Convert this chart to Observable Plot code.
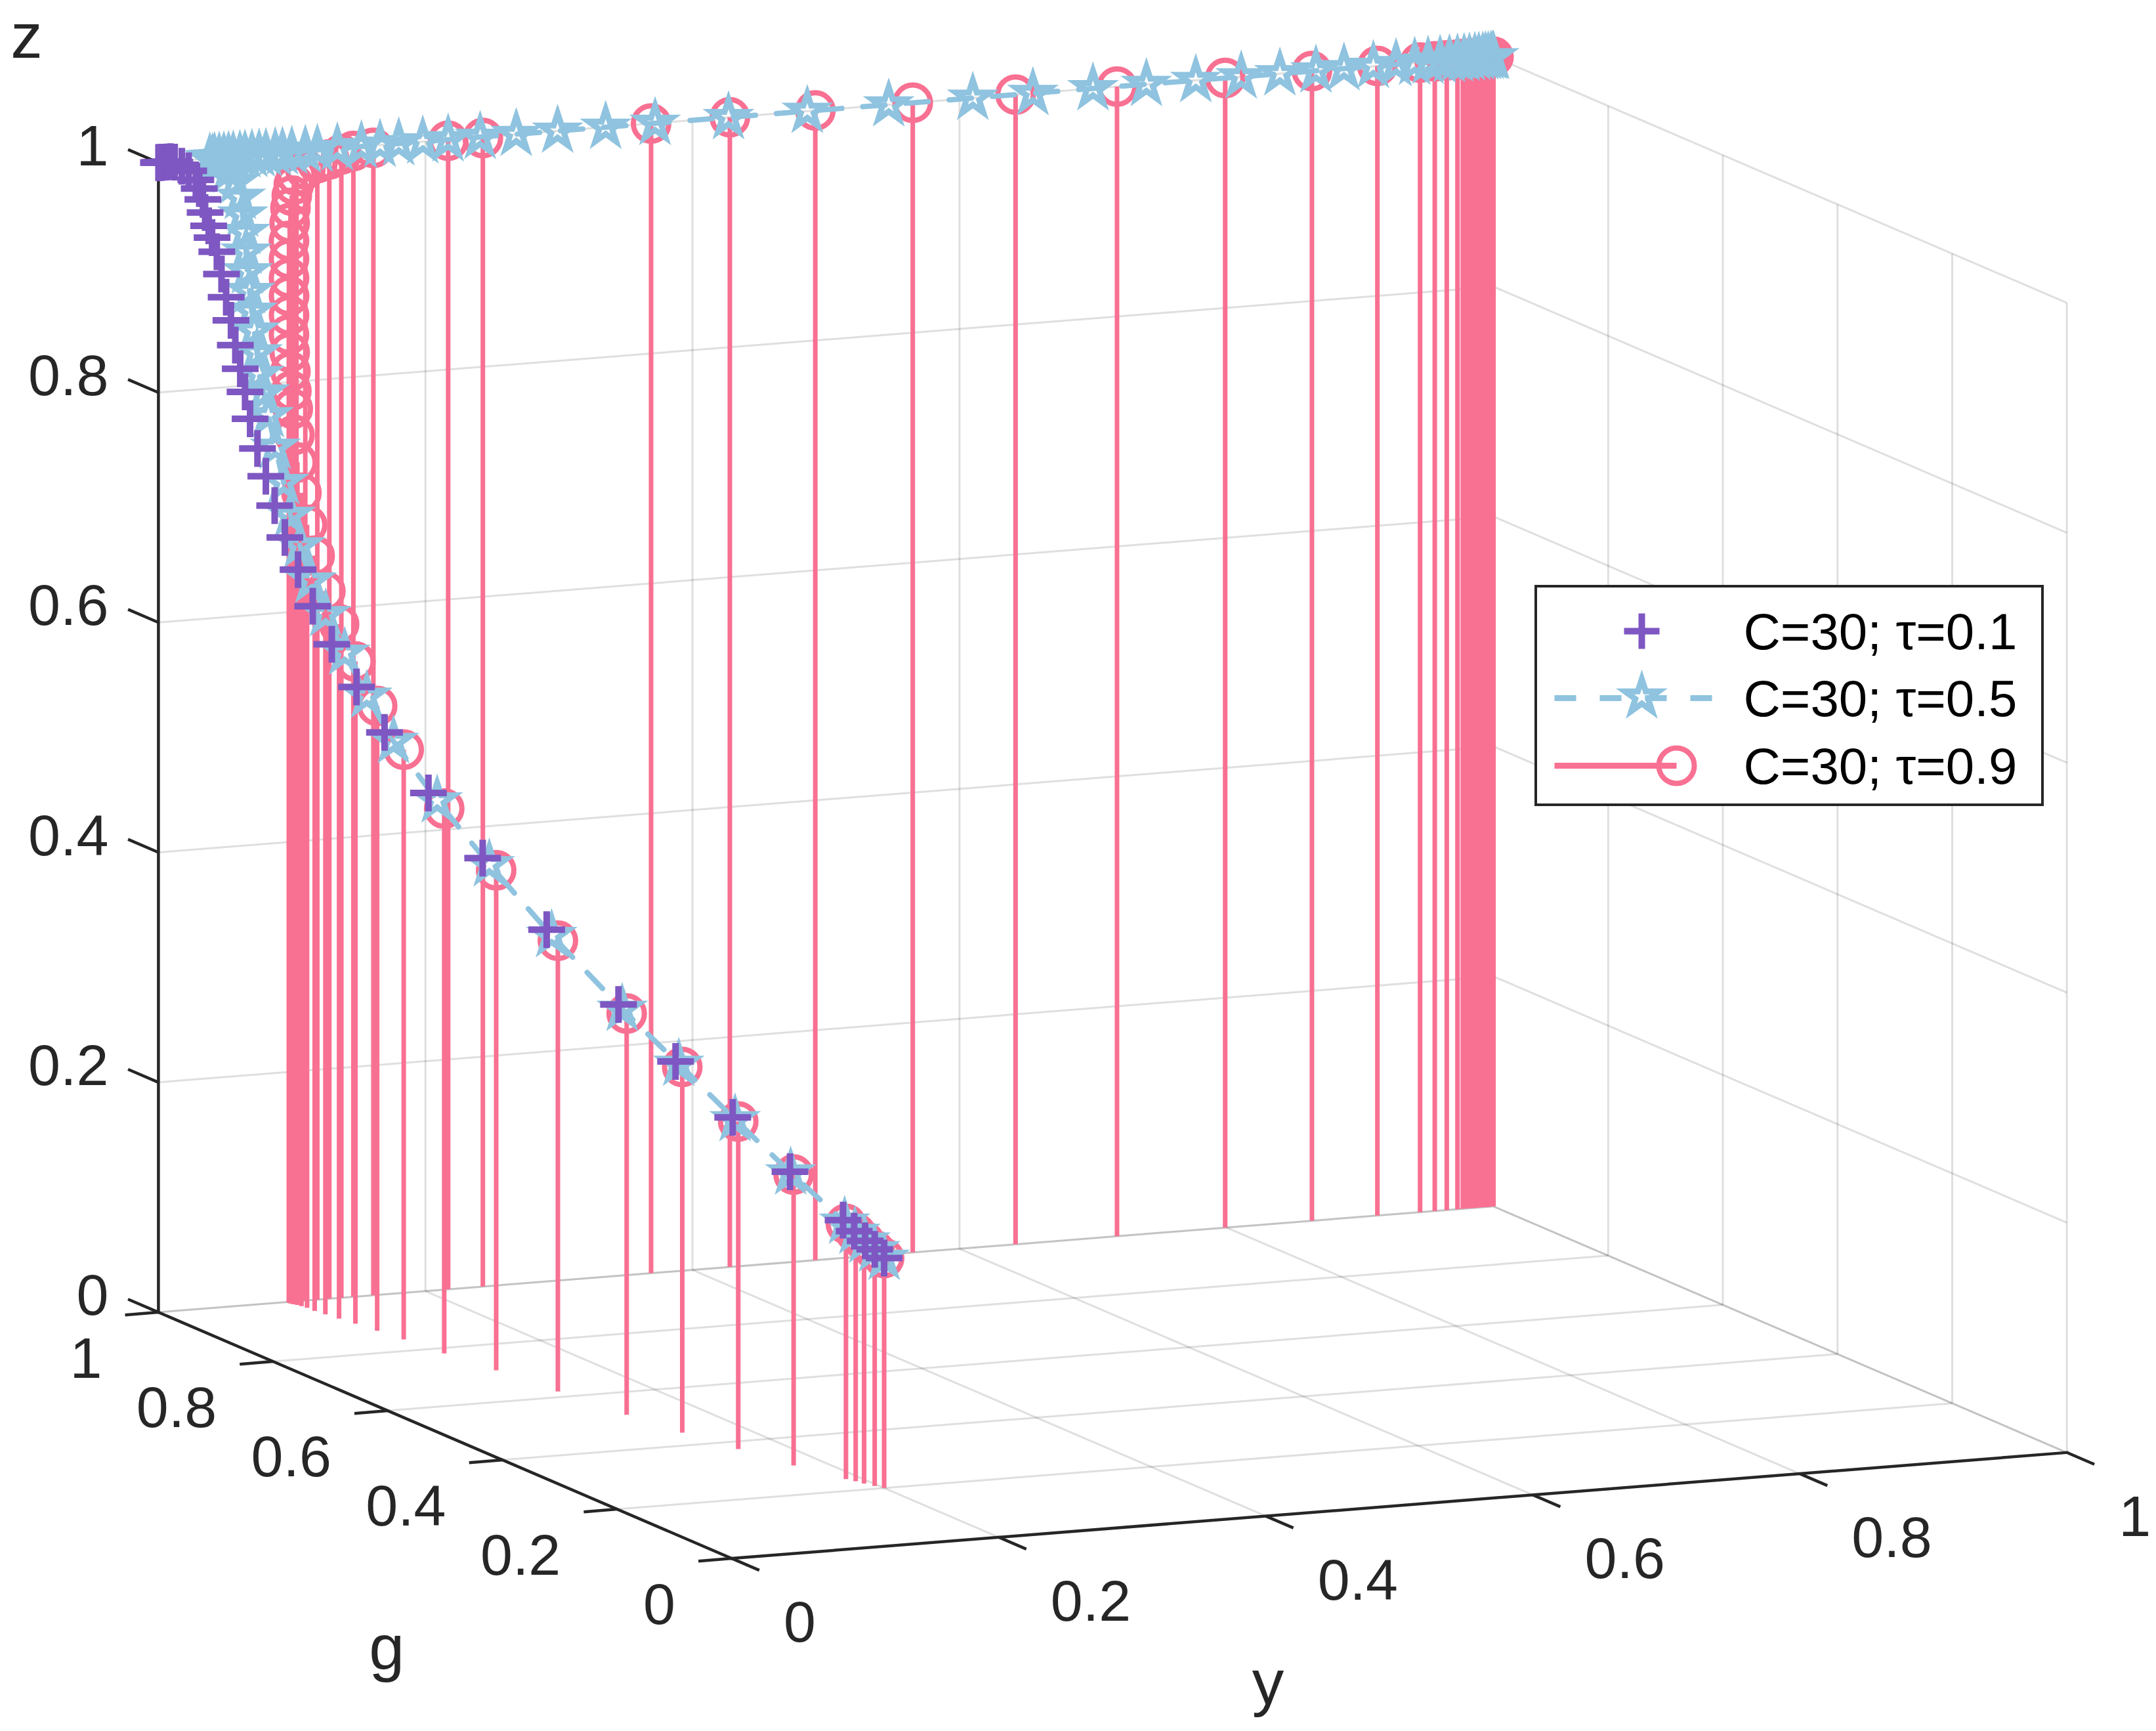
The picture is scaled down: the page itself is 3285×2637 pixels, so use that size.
<!DOCTYPE html>
<html>
<head>
<meta charset="utf-8">
<script src="https://cdn.jsdelivr.net/npm/d3@7"></script>
<script src="https://cdn.jsdelivr.net/npm/@observablehq/plot@0.6"></script>
<style>
html,body{margin:0;padding:0;background:#fff;}
#chart svg{display:block;}
</style>
</head>
<body>
<div id="chart"></div>
<script>
// ---------------- data ----------------
const seriesNames = ["C=30; τ=0.1", "C=30; τ=0.5", "C=30; τ=0.9"];
const tickValues = [0, 0.2, 0.4, 0.6, 0.8, 1];
const tickLabels = ["0", "0.2", "0.4", "0.6", "0.8", "1"];
const axisNames = ["g", "y", "z"];

// each point: [g, y, z]
const tau01 = [
 [0.2,0.2,0.2],[0.2094,0.197,0.2058],[0.2192,0.194,0.2115],[0.229,0.190,0.2182],[0.2413,0.187,0.2253],
 [0.299,0.172,0.2565],[0.3686,0.159,0.290],[0.438,0.146,0.325],[0.5096,0.134,0.3603],[0.6046,0.121,0.4063],
 [0.6906,0.110,0.4511],[0.7619,0.100,0.4935],[0.8199,0.092,0.5345],[0.8547,0.086,0.5671],[0.8839,0.080,0.5985],
 [0.9055,0.075,0.6274],[0.9218,0.071,0.6562],[0.9355,0.067,0.6816],[0.9463,0.064,0.7073],[0.9547,0.061,0.7313],
 [0.960,0.057,0.7546],[0.964,0.0532,0.780],[0.967,0.0507,0.803],[0.970,0.0484,0.8226],[0.973,0.046,0.8428],
 [0.976,0.044,0.8639],[0.979,0.0417,0.8836],[0.982,0.0395,0.9033],[0.985,0.0373,0.9222],[0.987,0.0346,0.9343],
 [0.989,0.0329,0.9443],[0.991,0.0311,0.9556],[0.993,0.0303,0.9667],[0.995,0.0284,0.9759],[0.997,0.0267,0.9831],
 [0.998,0.0218,0.9912],[0.999,0.0171,0.9955],[1,0.0122,0.9993],[1,0.009,1],[1,0.0065,1],[1,0.0045,1],[1,0.003,1],
 [1,0.002,1],[1,0.001,1],[1,0.0005,1],[1,0,1]
];
const tau05 = [
 [0.2,0.2,0.2],[0.2094,0.197,0.2056],[0.2196,0.194,0.2113],[0.230,0.191,0.217],[0.241,0.188,0.2237],
 [0.3025,0.174,0.2547],[0.3715,0.162,0.2873],[0.4418,0.150,0.3216],[0.516,0.1395,0.3545],[0.6134,0.1285,0.3988],
 [0.700,0.119,0.4427],[0.770,0.110,0.4841],[0.831,0.1035,0.5232],[0.866,0.0985,0.5556],[0.894,0.094,0.5875],
 [0.918,0.090,0.6162],[0.9365,0.087,0.6418],[0.9487,0.084,0.670],[0.9585,0.081,0.6947],
 [0.964,0.0783,0.7224],[0.968,0.0738,0.7526],[0.972,0.0703,0.7795],[0.975,0.0683,0.7988],[0.978,0.0659,0.8144],
 [0.981,0.0657,0.8327],[0.983,0.0645,0.8513],[0.985,0.0635,0.8682],[0.987,0.0627,0.885],[0.989,0.0619,0.9018],
 [0.991,0.0618,0.9185],[0.993,0.0618,0.9352],[0.995,0.0609,0.950],[0.997,0.0601,0.965],[0.998,0.0570,0.9783],
 [0.999,0.0521,0.9883],
 [1,0.045,0.996],[1,0.0405,0.999],[1,0.0385,1],[1,0.042,1],[1,0.0455,1],[1,0.049,1],[1,0.0525,1],[1,0.056,1],
 [1,0.061,1],[1,0.0648,1],[1,0.070,1],[1,0.0754,1],[1,0.0805,1],[1,0.0875,1],[1,0.0929,1],[1,0.0999,1],
 [1,0.110,1],[1,0.119,1],[1,0.134,1],[1,0.152,1],[1,0.166,1],[1,0.180,1],[1,0.198,1],[1,0.217,1],[1,0.241,1],
 [1,0.268,1],[1,0.299,1],[1,0.335,1],[1,0.372,1],[1,0.427,1],[1,0.486,1],[1,0.547,1],[1,0.610,1],[1,0.655,1],
 [1,0.700,1],[1,0.740,1],[1,0.777,1],[1,0.811,1],[1,0.840,1],[1,0.867,1],[1,0.888,1],[1,0.910,1],[1,0.927,1],
 [1,0.941,1],[1,0.951,1],[1,0.960,1],[1,0.967,1],[1,0.973,1],[1,0.978,1],[1,0.982,1],[1,0.986,1],[1,0.989,1],
 [1,0.992,1],[1,0.994,1],[1,0.996,1],[1,0.998,1],[1,0.999,1],[1,1,1]
];
const tau09 = [
 [0.2,0.2,0.2],[0.2095,0.197,0.205],[0.221,0.194,0.211],[0.231,0.192,0.216],[0.241,0.189,0.222],
 [0.302,0.176,0.253],[0.373,0.165,0.285],[0.445,0.154,0.318],[0.521,0.145,0.349],[0.620,0.136,0.392],
 [0.709,0.128,0.435],[0.781,0.120,0.474],[0.840,0.115,0.513],[0.877,0.111,0.5435],[0.907,0.1076,0.576],
 [0.929,0.1048,0.604],[0.9475,0.1025,0.629],[0.962,0.1007,0.657],[0.975,0.1006,0.681],
 [0.982,0.0994,0.7075],[0.987,0.0985,0.7329],[0.990,0.0976,0.7563],[0.992,0.0972,0.7786],[0.994,0.0970,0.7938],
 [0.995,0.0967,0.8104],[0.996,0.0966,0.8269],[0.997,0.0965,0.8422],[0.998,0.097,0.8587],[0.998,0.097,0.8755],
 [0.999,0.0974,0.8908],[0.999,0.0974,0.9075],[1,0.0978,0.9229],[1,0.0983,0.9383],[1,0.0989,0.9514],
 [1,0.0999,0.9621],[1,0.1014,0.9715],[1,0.1034,0.979],[1,0.110,0.984],[1,0.119,0.9886],[1,0.128,0.991],
 [1,0.137,0.9945],[1,0.146,0.9966],[1,0.161,0.998],[1,0.217,0.999],[1,0.243,0.999],[1,0.369,1],[1,0.428,1],
 [1,0.492,1],[1,0.565,1],[1,0.642,1],[1,0.718,1],[1,0.799,1],[1,0.864,1],[1,0.913,1],[1,0.945,1],[1,0.956,1],
 [1,0.965,1],[1,0.973,1],[1,0.977,1],[1,0.980,1],[1,0.983,1],[1,0.985,1],[1,0.987,1],[1,0.989,1],[1,0.991,1],
 [1,0.993,1],[1,0.994,1],[1,0.995,1],[1,0.996,1],[1,0.997,1],[1,0.998,1],[1,0.999,1],[1,1,1]
];

// ---------------- layout / style ----------------
const W = 3285, H = 2637;
const COLORS = {purple: "#7E57C2", blue: "#8FC3DF", pink: "#F87092", axis: "#262626"};
const FONT = "'Liberation Sans', Arial, Helvetica, sans-serif";
// orthographic 3D view (pixel position of origin and of unit axis vectors)
const O = [1114.5, 2373.6], VG = [-873.6, -375.0], VY = [2034.2, -161.3], VZ = [0, -1751.4];
const project = (g, y, z) => [O[0] + g*VG[0] + y*VY[0] + z*VZ[0], O[1] + g*VG[1] + y*VY[1] + z*VZ[1]];
const pts = arr => arr.map(([g, y, z]) => {
  const [sx, sy] = project(g, y, z);
  const [bx, by] = project(g, y, 0);
  return {g, y, z, sx, sy, bx, by};
});
const P01 = pts(tau01), P05 = pts(tau05), P09 = pts(tau09);

// grid on back planes
const grid = [];
for (const t of tickValues) {
  grid.push([project(t,0,0), project(t,1,0)]);
  grid.push([project(0,t,0), project(1,t,0)]);
  grid.push([project(1,t,0), project(1,t,1)]);
  grid.push([project(1,0,t), project(1,1,t)]);
  grid.push([project(t,1,0), project(t,1,1)]);
  grid.push([project(0,1,t), project(1,1,t)]);
}
const axesLines = [
  [project(1,0,0), project(1,0,1)],
  [project(0,0,0), project(1,0,0)],
  [project(0,0,0), project(0,1,0)]
];
const tickSegs = [];
const add = (p, v, k) => [p[0] + k*v[0], p[1] + k*v[1]];
for (const t of tickValues) {
  const pz = project(1,0,t); tickSegs.push([pz, add(pz, VG, 0.053)]);
  const pg = project(t,0,0); tickSegs.push([pg, add(pg, VY, -0.025)]);
  const py = project(0,t,0); tickSegs.push([py, add(py, VG, -0.048)]);
}
const linkOpts = {x1: d => d[0][0], y1: d => d[0][1], x2: d => d[1][0], y2: d => d[1][1]};

// marker shapes (size = pi r^2 -> radius r)
const starSymbol = {draw(ctx, size) {
  const R = Math.sqrt(size / Math.PI), r = R * 0.381966;
  for (let i = 0; i < 10; i++) {
    const a = -Math.PI / 2 + i * Math.PI / 5, rad = i % 2 ? r : R;
    const x = rad * Math.cos(a), y = rad * Math.sin(a);
    if (i) ctx.lineTo(x, y); else ctx.moveTo(x, y);
  }
  ctx.closePath();
}};
const plusSymbol = {draw(ctx, size) {
  const R = Math.sqrt(size / Math.PI);
  ctx.moveTo(-R, 0); ctx.lineTo(R, 0); ctx.moveTo(0, -R); ctx.lineTo(0, R);
}};

// legend layout
const LEG = {x0: 2340, y0: 893, x1: 3112, y1: 1226, textX: 2656, rows: [961, 1063, 1166],
             lineX0: 2368, lineX1: 2608, markX: 2501, circX: 2554};
const legendRows = seriesNames.map((name, i) => ({name, y: LEG.rows[i]}));

const chart = Plot.plot({
  width: W, height: H, margin: 0,
  style: {fontFamily: FONT, background: "#fff", overflow: "visible"},
  x: {type: "linear", domain: [0, W], range: [0, W], axis: null},
  y: {type: "linear", domain: [0, H], range: [0, H], axis: null},
  marks: [
    Plot.link(grid, {...linkOpts, stroke: COLORS.axis, strokeOpacity: 0.15, strokeWidth: 3}),
    Plot.link(axesLines, {...linkOpts, stroke: COLORS.axis, strokeWidth: 4.5, strokeLinecap: "square"}),
    Plot.link(tickSegs, {...linkOpts, stroke: COLORS.axis, strokeWidth: 4.5}),
    // tick labels
    Plot.text(tickValues, {x: t => project(1,0,t)[0], y: t => project(1,0,t)[1], text: (t, i) => tickLabels[i],
      dx: -76, dy: -24, textAnchor: "end", fontSize: 88, fill: COLORS.axis}),
    Plot.text(tickValues, {x: t => project(t,0,0)[0], y: t => project(t,0,0)[1], text: (t, i) => tickLabels[i],
      dx: -86, dy: 72, textAnchor: "end", fontSize: 88, fill: COLORS.axis}),
    Plot.text(tickValues, {x: t => project(0,t,0)[0], y: t => project(0,t,0)[1], text: (t, i) => tickLabels[i],
      dx: 79, dy: 99, textAnchor: "start", fontSize: 88, fill: COLORS.axis}),
    // axis labels
    Plot.text([axisNames[0]], {x: () => project(0.5,0,0)[0], y: () => project(0.5,0,0)[1], text: d => d,
      dx: -89, dy: 356, lineAnchor: "bottom", textAnchor: "middle", fontSize: 97, fill: COLORS.axis}),
    Plot.text([axisNames[1]], {x: () => project(0,0.5,0)[0], y: () => project(0,0.5,0)[1], text: d => d,
      dx: -200, dy: 303, lineAnchor: "bottom", textAnchor: "middle", fontSize: 97, fill: COLORS.axis}),
    Plot.text([axisNames[2]], {x: () => project(1,0,1)[0], y: () => project(1,0,1)[1], text: d => d,
      dx: -201, dy: -160, lineAnchor: "bottom", textAnchor: "middle", fontSize: 97, fill: COLORS.axis}),
    // tau = 0.9 : stems + circles
    Plot.link(P09, {x1: "bx", y1: "by", x2: "sx", y2: "sy", stroke: COLORS.pink, strokeWidth: 7}),
    Plot.dot(P09, {x: "sx", y: "sy", r: 27, stroke: COLORS.pink, strokeWidth: 8, fill: "none"}),
    // tau = 0.5 : dashed line + pentagrams
    Plot.line(P05, {x: "sx", y: "sy", stroke: COLORS.blue, strokeWidth: 8, strokeDasharray: "34,32"}),
    Plot.dot(P05, {x: "sx", y: "sy", r: 27, symbol: starSymbol, stroke: COLORS.blue, strokeWidth: 9, fill: "none", strokeLinejoin: "miter"}),
    // tau = 0.1 : plus markers
    Plot.dot(P01, {x: "sx", y: "sy", r: 28, symbol: plusSymbol, stroke: COLORS.purple, strokeWidth: 10, fill: "none"}),
    // legend
    Plot.rect([0], {x1: () => LEG.x0, x2: () => LEG.x1, y1: () => LEG.y0, y2: () => LEG.y1, fill: "#fff", stroke: COLORS.axis, strokeWidth: 4}),
    Plot.link([0], {x1: () => LEG.lineX0, x2: () => LEG.lineX1, y1: () => LEG.rows[1], y2: () => LEG.rows[1],
      stroke: COLORS.blue, strokeWidth: 9, strokeDasharray: "33,36"}),
    Plot.link([0], {x1: () => LEG.lineX0, x2: () => LEG.circX, y1: () => LEG.rows[2], y2: () => LEG.rows[2],
      stroke: COLORS.pink, strokeWidth: 9}),
    Plot.dot([0], {x: () => LEG.markX, y: () => LEG.rows[0], r: 27, symbol: plusSymbol, stroke: COLORS.purple, strokeWidth: 10, fill: "none"}),
    Plot.dot([0], {x: () => LEG.markX, y: () => LEG.rows[1] - 2, r: 27, symbol: starSymbol, stroke: COLORS.blue, strokeWidth: 9, fill: "none", strokeLinejoin: "miter"}),
    Plot.dot([0], {x: () => LEG.circX, y: () => LEG.rows[2], r: 27, stroke: COLORS.pink, strokeWidth: 8, fill: "none"}),
    Plot.text(legendRows, {x: () => LEG.textX, y: "y", text: "name", dy: 3, textAnchor: "start", fontSize: 78, fill: "#000"})
  ]
});
document.getElementById("chart").appendChild(chart);
</script>
</body>
</html>
